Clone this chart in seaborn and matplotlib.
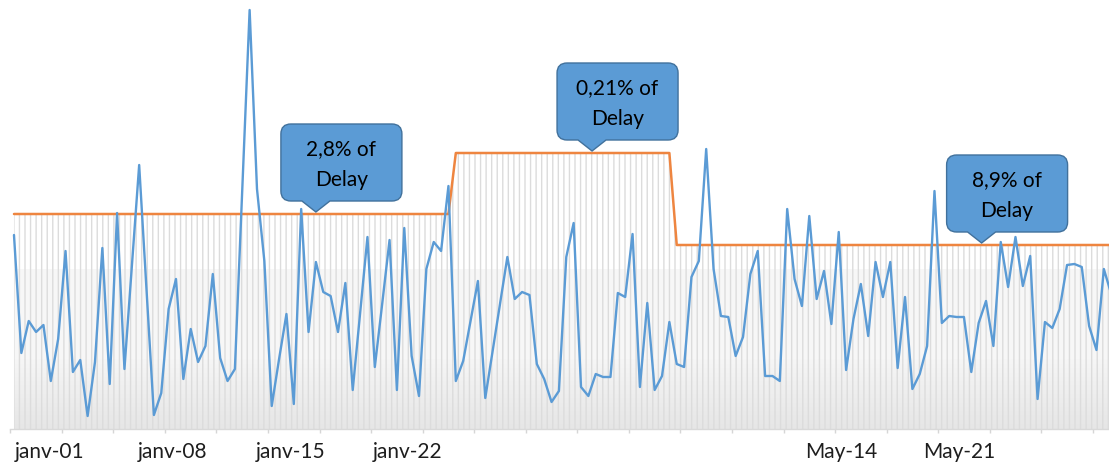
import numpy as np
import matplotlib
matplotlib.use("Agg")
import matplotlib.pyplot as plt
import matplotlib.transforms as mtransforms
from matplotlib.path import Path
from matplotlib.patches import PathPatch
from matplotlib.colors import LinearSegmentedColormap
import seaborn as sns

# Daily delay counts
delay_counts = [194, 76, 108, 97, 104, 48, 90, 178, 57, 69,
                13, 67, 181, 45, 216, 60, 162, 264, 139, 14,
                36, 120, 150, 50, 100, 67, 83, 155, 71, 48,
                60, 240, 419, 240, 168, 23, 70, 115, 25, 220,
                97, 167, 137, 133, 97, 146, 39, 116, 192, 62,
                125, 189, 39, 201, 73, 33, 160, 187, 178, 243,
                48, 68, 108, 148, 31, 78, 125, 172, 130, 137,
                134, 65, 50, 27, 38, 172, 206, 42, 33, 55,
                52, 52, 136, 132, 195, 42, 126, 39, 53, 107,
                65, 62, 152, 168, 280, 160, 113, 112, 73, 92,
                155, 178, 53, 53, 48, 220, 150, 123, 213, 130,
                158, 105, 197, 59, 110, 145, 93, 167, 132, 167,
                61, 132, 40, 55, 83, 238, 106, 113, 112, 112,
                57, 106, 128, 83, 187, 142, 192, 143, 173, 30,
                107, 101, 120, 164, 165, 162, 103, 79, 160, 135]

# Threshold level for each period and the number of days in it
period_levels = [215, 276, 184]
period_days = [60, 30, 60]

# Share of delay per period
period_notes = ["2,8% of\nDelay", "0,21% of\nDelay", "8,9% of\nDelay"]
note_days = [41, 78.5, 131.4]

# Date labels
date_labels = ["janv-01", "janv-08", "janv-15", "janv-22", "May-14", "May-21"]
date_label_pos = [4.8, 21.5, 37.5, 53.4, 112.3, 128.4]

sns.set_theme(style="white")
plt.rcParams["font.family"] = ["Lato", "DejaVu Sans"]
plt.rcParams["hatch.color"] = "#dcdcdc"
plt.rcParams["hatch.linewidth"] = 1.0

n = len(delay_counts)
days = np.arange(n)
threshold = np.repeat(period_levels, period_days)

fig = plt.figure(figsize=(11.09, 4.64), dpi=100)
fig.patch.set_facecolor("white")
ax = fig.add_axes([10.3 / 1109, 34 / 464, 1 - 10.3 / 1109, 430 / 464])
ax.set_facecolor("white")

# soft grey bands behind the striped area
grad = np.linspace(0, 1, 64).reshape(-1, 1)
band_cmap = LinearSegmentedColormap.from_list("band", ["#e6e6e6", "#f6f6f6"])
ax.imshow(grad, extent=(0, n - 1, 0, 70), origin="lower", aspect="auto",
          cmap=band_cmap, zorder=0)
ax.fill_between([0, n - 1], 70, 160, color="#f7f7f7", lw=0, zorder=0)

# striped area under the threshold
ax.fill_between(days, threshold, 0, facecolor="none", edgecolor="#dcdcdc",
                hatch="|||", linewidth=0, zorder=1)

sns.lineplot(x=days, y=threshold, color="#ee8540", lw=1.8, ax=ax, zorder=2)
sns.lineplot(x=days, y=delay_counts, color="#5b9bd5", lw=1.7, ax=ax, zorder=3)

ax.set_xlim(-0.5, 148.7)
ax.set_ylim(0, 430)

# axis styling
for side in ["top", "left", "right"]:
    ax.spines[side].set_visible(False)
ax.spines["bottom"].set_color("#d9d9d9")
ax.spines["bottom"].set_linewidth(1.0)
ax.set_yticks([])
ax.set_xticks(date_label_pos)
ax.set_xticklabels(date_labels)
ax.set_xticks(np.arange(-0.5, n, 7), minor=True)
ax.tick_params(axis="x", which="major", length=0, pad=9, labelsize=15,
               labelcolor="#1e1e1e")
ax.tick_params(axis="x", which="minor", length=3, width=1, color="#d6d6d6",
               bottom=True)
ax.set_xlabel("")
ax.set_ylabel("")


def callout(ax, day, text):
    level = threshold[int(round(day))]
    left, w, gap, h, r, half = 35, 121, 13, 77, 10, 14
    x0, x1 = -left, -left + w
    y0, y1 = gap, gap + h
    verts = [
        (x0 + r, y0), (-half, y0), (0, 2), (half, y0), (x1 - r, y0),
        (x1, y0), (x1, y0 + r),
        (x1, y1 - r),
        (x1, y1), (x1 - r, y1),
        (x0 + r, y1),
        (x0, y1), (x0, y1 - r),
        (x0, y0 + r),
        (x0, y0), (x0 + r, y0),
        (x0 + r, y0),
    ]
    codes = [Path.MOVETO, Path.LINETO, Path.LINETO, Path.LINETO, Path.LINETO,
             Path.CURVE3, Path.CURVE3,
             Path.LINETO,
             Path.CURVE3, Path.CURVE3,
             Path.LINETO,
             Path.CURVE3, Path.CURVE3,
             Path.LINETO,
             Path.CURVE3, Path.CURVE3,
             Path.CLOSEPOLY]
    tr = mtransforms.Affine2D() + mtransforms.ScaledTranslation(day, level, ax.transData)
    ax.add_patch(PathPatch(Path(verts, codes), transform=tr, facecolor="#5b9bd5",
                           edgecolor="#41719c", lw=1.0, zorder=5, clip_on=False))
    ax.text((x0 + x1) / 2, (y0 + y1) / 2 - 1, text, transform=tr, ha="center",
            va="center", fontsize=15, color="black", linespacing=1.65,
            zorder=6)


for day, note in zip(note_days, period_notes):
    callout(ax, day, note)

fig.savefig("out.png", dpi=100, facecolor="white")
